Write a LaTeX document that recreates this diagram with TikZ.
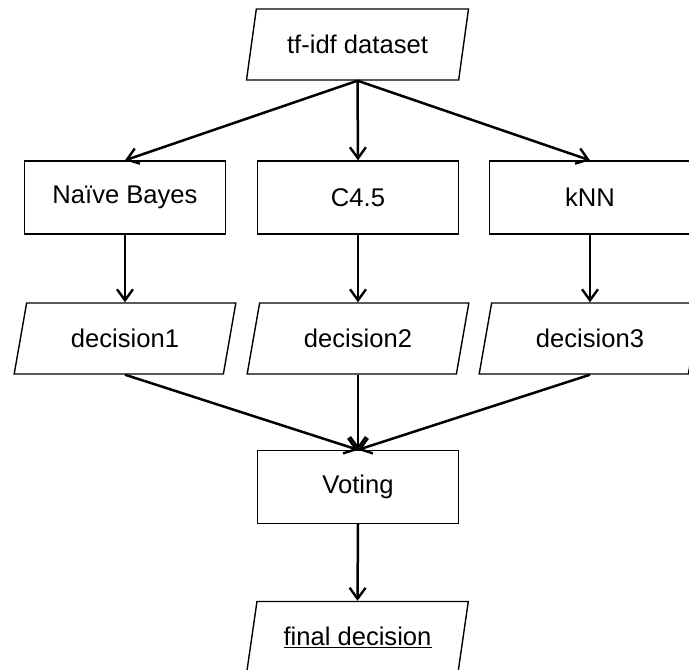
\documentclass[tikz,border=0pt]{standalone}
\usepackage{fontspec}
\setmainfont{Liberation Sans}
\usetikzlibrary{shapes.geometric,arrows.meta}
\begin{document}
\begin{tikzpicture}[x=1pt,y=-1pt,
  every node/.style={font=\fontsize{25.6}{30}\selectfont, inner sep=0pt},
  procbox/.style={draw, line width=1.4pt, rectangle, minimum width=201pt, minimum height=73pt},
  databox/.style={draw, line width=1.4pt, trapezium, trapezium left angle=70, trapezium right angle=110,
    trapezium stretches=true, minimum width=222pt, minimum height=71pt},
  arr/.style={line width=2.5pt, -{Straight Barb[length=11pt,width=16pt,line width=2.4pt]}}]
\useasboundingbox (0,0) rectangle (689,670);
\node[databox] (tf) at (357.5,44.5) {tf-idf dataset};
\node[procbox] (nb) at (125,197.5) {Naïve Bayes};
\node[procbox] (c45) at (358,197.5) {C4.5};
\node[procbox] (knn) at (590,197.5) {kNN};
\node[databox] (d1) at (125,338.5) {decision1};
\node[databox] (d2) at (358,338.5) {decision2};
\node[databox] (d3) at (590,338.5) {decision3};
\node[procbox] (vote) at (358,487) {Voting};
\node[databox] (fd) at (357.5,637) {\underline{final decision}};
\draw[arr] (tf.center |- tf.south) -- (nb.north);
\draw[arr] (tf.center |- tf.south) -- (c45.north);
\draw[arr] (tf.center |- tf.south) -- (knn.north);
\draw[arr] (nb.south) -- (d1.center |- d1.north);
\draw[arr] (c45.south) -- (d2.center |- d2.north);
\draw[arr] (knn.south) -- (d3.center |- d3.north);
\draw[arr] (d1.center |- d1.south) -- (vote.north);
\draw[arr] (d2.center |- d2.south) -- (vote.north);
\draw[arr] (d3.center |- d3.south) -- (vote.north);
\draw[arr] (vote.south) -- (fd.center |- fd.north);
\end{tikzpicture}
\end{document}
